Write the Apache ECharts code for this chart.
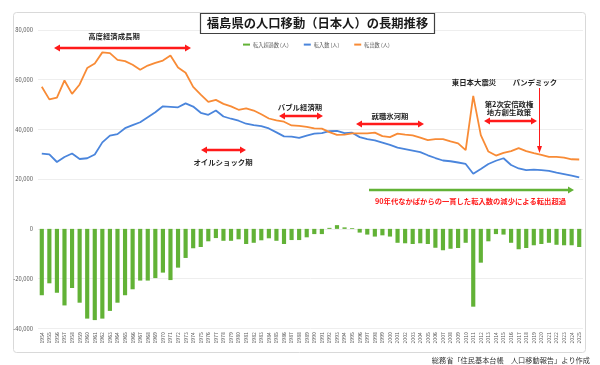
<!DOCTYPE html>
<html>
<head>
<meta charset="utf-8">
<script src="https://cdn.jsdelivr.net/npm/echarts@6/dist/echarts.min.js"></script>
<style>
html,body{margin:0;padding:0;background:#fff;}
#c{width:600px;height:365px;}
</style>
</head>
<body>
<div id="c"></div>
<script>
const years = ['1954','1955','1956','1957','1958','1959','1960','1961','1962','1963','1964','1965','1966','1967','1968','1969','1970','1971','1972','1973','1974','1975','1976','1977','1978','1979','1980','1981','1982','1983','1984','1985','1986','1987','1988','1989','1990','1991','1992','1993','1994','1995','1996','1997','1998','1999','2000','2001','2002','2003','2004','2005','2006','2007','2008','2009','2010','2011','2012','2013','2014','2015','2016','2017','2018','2019','2020','2021','2022','2023','2024','2025'];

const netMigration = [-26700,-21900,-25700,-30800,-23800,-29700,-36100,-36700,-36100,-33000,-29700,-26700,-24300,-20800,-20800,-19800,-17600,-20600,-15600,-11700,-7800,-7300,-5000,-3700,-4800,-4800,-4200,-6100,-5600,-4600,-3800,-4800,-6100,-4500,-4500,-3400,-2100,-2100,400,1500,600,300,-1500,-2300,-3100,-2600,-3100,-5600,-5800,-6100,-5800,-6100,-7600,-8600,-8000,-7700,-5600,-31300,-13600,-5000,-2100,-2300,-5600,-8200,-7700,-6600,-6100,-5600,-6400,-6600,-6600,-7300];

const inMigration = [30300,30000,26900,28900,30300,28100,28400,29900,34800,37500,38100,40500,41700,42900,44900,46900,49300,49100,48900,50500,49200,46700,45900,47600,45200,44300,43500,42300,41700,41300,40400,38800,37200,37100,36600,37500,38300,38500,39300,39400,38500,38700,36900,36100,35600,34700,33800,32700,32100,31500,30900,29600,28500,27500,27200,26700,26100,22200,24100,26100,27400,28400,25700,24300,23600,23800,23600,23300,22600,22000,21400,20700];

const outMigration = [57200,52100,52800,59700,54300,58100,64700,66500,71000,70700,68000,67500,66000,64000,65700,66800,67700,69700,64900,62800,57100,54000,51100,51900,50300,49300,47900,48500,47600,46100,44400,43600,43100,41600,41400,41000,40400,40300,38900,37800,37900,38400,38400,38400,38700,37300,36900,38300,37900,37600,36700,35700,36100,36100,35200,34400,31700,53500,37700,31100,29500,30600,31300,32500,31300,30500,29800,29000,29000,28700,28000,27900];

const seriesNames = ['転入超過数 (人)','転入数 (人)','転出数 (人)'];
const titleText = '福島県の人口移動（日本人）の長期推移';
const sourceText = '総務省「住民基本台帳　人口移動報告」より作成';

const FF = '"Noto Sans CJK JP", "Noto Sans", sans-serif';
const RED = '#ff1a1a';
const GREEN = '#62b236';

function hArrow(x1, x2, y, color, lw, both) {
  const hl = 6, hw = 3.6;
  const els = [
    {type:'line', z:100, shape:{x1: both ? x1 + hl - 1 : x1, y1:y, x2:x2 - hl + 1, y2:y}, style:{stroke:color, lineWidth:lw}},
    {type:'polygon', z:100, shape:{points:[[x2,y],[x2-hl,y-hw],[x2-hl,y+hw]]}, style:{fill:color}}
  ];
  if (both) els.push({type:'polygon', z:100, shape:{points:[[x1,y],[x1+hl,y-hw],[x1+hl,y+hw]]}, style:{fill:color}});
  return els;
}
function label(text, x, y, opts) {
  opts = opts || {};
  return {type:'text', z:101, x:x, y:y, style:{text:text, fontSize:opts.size || 7.4, fontWeight:opts.weight || 'bold', fontFamily:FF,
    fill:opts.color || '#262626', align:opts.align || 'center', verticalAlign:'middle'}};
}

const chart = echarts.init(document.getElementById('c'), null, {renderer:'canvas'});

const graphics = [].concat(
  [{type:'rect', z:-1, shape:{x:13.5, y:12.5, width:572, height:340, r:3}, style:{fill:'none', stroke:'#d9d9d9', lineWidth:1}}],
  [{type:'rect', z:99, shape:{x:200.5, y:13.5, width:234, height:20}, style:{fill:'#fff', stroke:'#404040', lineWidth:1.2}}],
  [label(titleText, 317.5, 23.5, {size:12.3, color:'#1a1a1a'})],
  [label('高度経済成長期', 114, 36)], hArrow(54, 191, 48, RED, 2.6, true),
  [label('オイルショック期', 223, 162)], hArrow(201, 246, 150, RED, 2.6, true),
  [label('バブル経済期', 300, 107)], hArrow(279, 323, 116, RED, 2.6, true),
  [label('就職氷河期', 390, 116)], hArrow(356, 424, 124, RED, 2.6, true),
  [label('東日本大震災', 474, 82)],
  [label('パンデミック', 535, 82)],
  [{type:'line', z:100, shape:{x1:539.5, y1:88, x2:539.5, y2:148}, style:{stroke:RED, lineWidth:1}},
   {type:'polygon', z:100, shape:{points:[[539.5,153],[537,146],[542,146]]}, style:{fill:RED}}],
  [label('第2次安倍政権', 509, 104), label('地方創生政策', 509, 112.5)], hArrow(484, 537, 121, RED, 2.6, true),
  hArrow(369, 574, 190, GREEN, 2.6, false),
  [label('90年代なかばからの一貫した転入数の減少による転出超過', 470.5, 201, {color:RED, size:7.3})],
  [label(sourceText, 590, 360, {align:'right', size:7.2, color:'#333', weight:'normal'})]
);

chart.setOption({
  animation:false,
  backgroundColor:'#fff',
  textStyle:{fontFamily:FF},
  grid:{left:38, right:17, top:30, bottom:36.7, containLabel:false},
  legend:{
    data:seriesNames, left:238, top:37, itemWidth:7, itemHeight:2, itemGap:15, icon:'rect',
    textStyle:{fontSize:5.2, color:'#595959', fontFamily:FF, padding:[0,0,0,-2]}
  },
  xAxis:{
    type:'category', data:years, boundaryGap:true,
    axisLine:{show:false}, axisTick:{show:false},
    axisLabel:{interval:0, rotate:90, fontSize:5, color:'#595959', margin:4, fontFamily:FF},
    splitLine:{show:false}
  },
  yAxis:{
    type:'value', min:-40000, max:80000, interval:20000,
    axisLine:{show:false}, axisTick:{show:false},
    axisLabel:{fontSize:5.8, color:'#595959', margin:5, fontFamily:FF,
      formatter:v => v.toLocaleString('en-US')},
    splitLine:{lineStyle:{color:'#eeeeee', width:1}}
  },
  series:[
    {name:seriesNames[0], type:'bar', data:netMigration, barWidth:'55%',
      itemStyle:{color:GREEN}, z:2},
    {name:seriesNames[1], type:'line', data:inMigration, showSymbol:false, symbol:'none',
      lineStyle:{color:'#4a85dc', width:1.8}, itemStyle:{color:'#4a85dc'}, z:3},
    {name:seriesNames[2], type:'line', data:outMigration, showSymbol:false, symbol:'none',
      lineStyle:{color:'#f88b36', width:1.8}, itemStyle:{color:'#f88b36'}, z:4}
  ],
  graphic:graphics
});
</script>
</body>
</html>
